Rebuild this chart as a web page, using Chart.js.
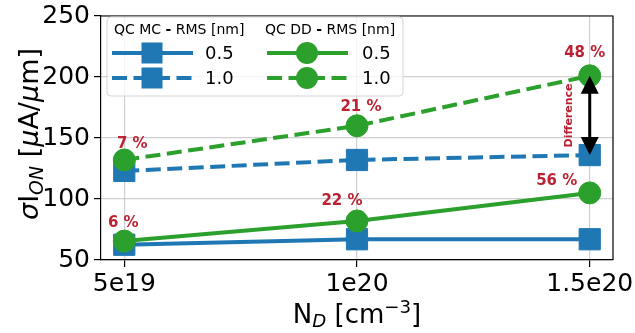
<!DOCTYPE html>
<html>
<head>
<meta charset="utf-8">
<script src="https://cdn.jsdelivr.net/npm/chart.js@4.4.0/dist/chart.umd.min.js"></script>
<style>
  html, body { margin: 0; padding: 0; background: #fff; }
  #wrap { width: 635px; height: 333px; }
</style>
</head>
<body>
<div id="wrap"><canvas id="chart"></canvas></div>
<script>
// Doping levels on the x axis
const dopingValues = [5e19, 1e20, 1.5e20];
const dopingLabels = ['5e19', '1e20', '1.5e20'];

// sigma I_ON [uA/um] for each model and roughness
const mcRms05 = [62.5, 67, 67];
const mcRms10 = [123, 132, 136];
const ddRms05 = [65.5, 82, 105];
const ddRms10 = [132, 160, 201];

// relative difference DD vs MC
const pctRms05 = ['6 %', '22 %', '56 %'];
const pctRms10 = ['7 %', '21 %', '48 %'];

const yMin = 50, yMax = 250, yStep = 50;

const BLUE = '#1f77b4';
const GREEN = '#2ca02c';
const RED = '#bb2233';
const FONT = "'DejaVu Sans', sans-serif";
const DASH = [15, 6.5];

// where the percent labels sit, relative to the DD markers (px)
const pctShift05 = [[-1, -18], [-15, -20], [-33, -12]];
const pctShift10 = [[8, -16], [4, -19], [-5, -23]];

function pts(values) {
    return values.map((v, i) => ({ x: dopingValues[i], y: v }));
}

// draw a row of text pieces (for sub/superscripts)
function drawParts(ctx, parts, x, y, size) {
    const fontOf = p => `${p.italic ? 'italic ' : ''}${p.bold ? 'bold ' : ''}${size * (p.scale || 1)}px ${FONT}`;
    let total = 0;
    parts.forEach(p => { ctx.font = fontOf(p); total += ctx.measureText(p.t).width; });
    let cx = x - total / 2;
    ctx.textAlign = 'left';
    ctx.textBaseline = 'alphabetic';
    parts.forEach(p => {
        ctx.font = fontOf(p);
        ctx.fillText(p.t, cx, y + (p.dy || 0));
        cx += ctx.measureText(p.t).width;
    });
}

function drawMarker(ctx, style, x, y, color) {
    ctx.fillStyle = color;
    ctx.beginPath();
    if (style === 'rect') {
        ctx.rect(x - 10.5, y - 10.5, 21, 21);
    } else {
        ctx.arc(x, y, 11, 0, Math.PI * 2);
    }
    ctx.fill();
}

function drawLegend(ctx) {
    ctx.save();
    // frame
    const bx = 107, by = 17, bw = 296, bh = 79, r = 4;
    ctx.beginPath();
    ctx.moveTo(bx + r, by);
    ctx.arcTo(bx + bw, by, bx + bw, by + bh, r);
    ctx.arcTo(bx + bw, by + bh, bx, by + bh, r);
    ctx.arcTo(bx, by + bh, bx, by, r);
    ctx.arcTo(bx, by, bx + bw, by, r);
    ctx.closePath();
    ctx.fillStyle = 'rgba(255,255,255,0.8)';
    ctx.fill();
    ctx.strokeStyle = '#d4d4d4';
    ctx.lineWidth = 1;
    ctx.stroke();

    const cols = [
        { name: 'QC MC', tx: 114, l0: 112, l1: 193, mx: 152, vx: 205, color: BLUE, style: 'rect' },
        { name: 'QC DD', tx: 265, l0: 267, l1: 348, mx: 307, vx: 362, color: GREEN, style: 'circle' }
    ];
    const rows = [{ y: 53, label: '0.5', dash: [] }, { y: 78, label: '1.0', dash: DASH }];

    cols.forEach(c => {
        ctx.fillStyle = '#000';
        ctx.textBaseline = 'middle';
        ctx.textAlign = 'left';
        let x = c.tx;
        [[c.name + ' ', ''], ['-', 'bold '], [' RMS [nm]', '']].forEach(([t, w]) => {
            ctx.font = `${w}14px ${FONT}`;
            ctx.fillText(t, x, 30);
            x += ctx.measureText(t).width;
        });
        rows.forEach(row => {
            ctx.strokeStyle = c.color;
            ctx.lineWidth = 4;
            ctx.setLineDash(row.dash);
            ctx.beginPath();
            ctx.moveTo(c.l0, row.y);
            ctx.lineTo(c.l1, row.y);
            ctx.stroke();
            ctx.setLineDash([]);
            drawMarker(ctx, c.style, c.mx, row.y, c.color);
            ctx.fillStyle = '#000';
            ctx.font = `18px ${FONT}`;
            ctx.textBaseline = 'middle';
            ctx.fillText(row.label, c.vx, row.y + 1);
        });
    });
    ctx.restore();
}

const overlay = {
    id: 'overlay',
    afterDatasetsDraw(chart) {
        const ctx = chart.ctx;
        const xs = chart.scales.x, ys = chart.scales.y;
        const area = chart.chartArea;
        ctx.save();

        // top and right spines
        ctx.strokeStyle = '#000';
        ctx.lineWidth = 1.2;
        ctx.beginPath();
        ctx.moveTo(area.left, area.top);
        ctx.lineTo(area.right, area.top);
        ctx.lineTo(area.right, area.bottom);
        ctx.stroke();

        // percent labels
        ctx.fillStyle = RED;
        ctx.font = `bold 15px ${FONT}`;
        ctx.textAlign = 'center';
        ctx.textBaseline = 'middle';
        dopingValues.forEach((d, i) => {
            const px = xs.getPixelForValue(d);
            ctx.fillText(pctRms05[i], px + pctShift05[i][0], ys.getPixelForValue(ddRms05[i]) + pctShift05[i][1]);
            ctx.fillText(pctRms10[i], px + pctShift10[i][0], ys.getPixelForValue(ddRms10[i]) + pctShift10[i][1]);
        });

        // double arrow between MC and DD at highest doping (RMS 1.0)
        const last = dopingValues.length - 1;
        const ax = xs.getPixelForValue(dopingValues[last]);
        const yTop = ys.getPixelForValue(ddRms10[last]);
        const yBot = ys.getPixelForValue(mcRms10[last]);
        const head = 18, hw = 9;
        ctx.strokeStyle = '#000';
        ctx.fillStyle = '#000';
        ctx.lineWidth = 3;
        ctx.beginPath();
        ctx.moveTo(ax, yTop + head - 2);
        ctx.lineTo(ax, yBot - head + 2);
        ctx.stroke();
        ctx.beginPath();
        ctx.moveTo(ax, yTop);
        ctx.lineTo(ax - hw, yTop + head);
        ctx.lineTo(ax + hw, yTop + head);
        ctx.closePath();
        ctx.fill();
        ctx.beginPath();
        ctx.moveTo(ax, yBot);
        ctx.lineTo(ax - hw, yBot - head);
        ctx.lineTo(ax + hw, yBot - head);
        ctx.closePath();
        ctx.fill();

        // "Difference" note next to the arrow
        ctx.translate(ax - 21, (yTop + yBot) / 2);
        ctx.rotate(-Math.PI / 2);
        ctx.fillStyle = RED;
        ctx.font = `bold 11px ${FONT}`;
        ctx.textAlign = 'center';
        ctx.textBaseline = 'middle';
        ctx.fillText('Difference', 0, 0);
        ctx.restore();
    },
    afterDraw(chart) {
        const ctx = chart.ctx;
        const area = chart.chartArea;
        drawLegend(ctx);

        ctx.save();
        ctx.fillStyle = '#000';
        // x axis title: N_D [cm^-3]
        drawParts(ctx, [
            { t: 'N' },
            { t: 'D', italic: true, scale: 0.7, dy: 4 },
            { t: ' [cm' },
            { t: '\u22123', scale: 0.7, dy: -10 },
            { t: ']' }
        ], (area.left + area.right) / 2, 323, 26);

        // y axis title: sigma I_ON [uA/um]
        ctx.translate(38, 134);
        ctx.rotate(-Math.PI / 2);
        drawParts(ctx, [
            { t: '\u03c3', italic: true },
            { t: 'I' },
            { t: 'ON', italic: true, scale: 0.7, dy: 5 },
            { t: ' [' },
            { t: '\u03bc', italic: true },
            { t: 'A/' },
            { t: '\u03bc', italic: true },
            { t: 'm]' }
        ], 0, 0, 27);
        ctx.restore();
    }
};

const lineBase = { borderWidth: 4, tension: 0, pointBorderWidth: 1, pointHoverRadius: 11 };

const chart = new Chart(document.getElementById('chart'), {
    type: 'line',
    data: {
        datasets: [
            { ...lineBase, label: 'QC MC 0.5', data: pts(mcRms05), borderColor: BLUE, backgroundColor: BLUE,
              pointStyle: 'rect', pointRadius: 15, order: 4 },
            { ...lineBase, label: 'QC MC 1.0', data: pts(mcRms10), borderColor: BLUE, backgroundColor: BLUE,
              borderDash: DASH, pointStyle: 'rect', pointRadius: 15, order: 3 },
            { ...lineBase, label: 'QC DD 0.5', data: pts(ddRms05), borderColor: GREEN, backgroundColor: GREEN,
              pointStyle: 'circle', pointRadius: 11, order: 2 },
            { ...lineBase, label: 'QC DD 1.0', data: pts(ddRms10), borderColor: GREEN, backgroundColor: GREEN,
              borderDash: DASH, pointStyle: 'circle', pointRadius: 11, order: 1 }
        ]
    },
    options: {
        responsive: true,
        maintainAspectRatio: false,
        animation: false,
        layout: { padding: { top: 14, right: 22, left: 0, bottom: 0 } },
        plugins: { legend: { display: false }, tooltip: { enabled: false } },
        scales: {
            x: {
                type: 'linear',
                min: 0.45e20,
                max: 1.55e20,
                afterBuildTicks: scale => { scale.ticks = dopingValues.map(v => ({ value: v })); },
                afterFit: scale => {
                    scale.height = 73;
                    scale.paddingLeft = 0;
                    scale.paddingRight = 0;
                },
                ticks: {
                    color: '#000',
                    font: { family: FONT, size: 25 },
                    padding: 2,
                    maxRotation: 0,
                    callback: v => dopingLabels[dopingValues.indexOf(v)]
                },
                grid: { color: 'rgba(176,176,176,0.6)', lineWidth: 1.2, tickColor: '#000', tickLength: 7, tickWidth: 1.2 },
                border: { color: '#000', width: 1.2 }
            },
            y: {
                min: yMin,
                max: yMax,
                afterFit: scale => {
                    scale.width = 101;
                    scale.paddingTop = 0;
                    scale.paddingBottom = 0;
                },
                ticks: {
                    stepSize: yStep,
                    color: '#000',
                    font: { family: FONT, size: 25 },
                    padding: 4
                },
                grid: { color: 'rgba(176,176,176,0.6)', lineWidth: 1.2, tickColor: '#000', tickLength: 7, tickWidth: 1.2 },
                border: { color: '#000', width: 1.2 }
            }
        }
    },
    plugins: [overlay]
});
</script>
</body>
</html>
